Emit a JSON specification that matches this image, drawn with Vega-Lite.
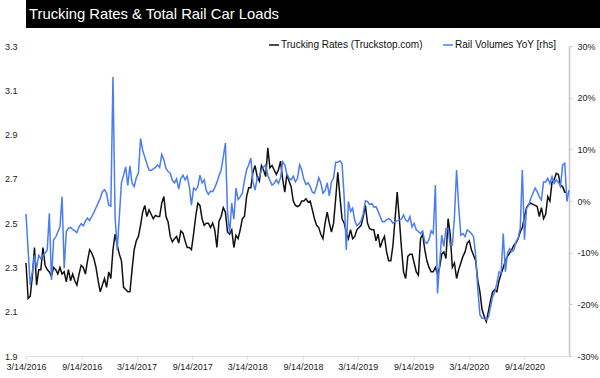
{
  "$schema": "https://vega.github.io/schema/vega-lite/v6.json",
  "padding": 0,
  "spacing": 11,
  "bounds": "full",
  "background": "white",
  "resolve": {"scale": {"color": "independent"}, "legend": {"color": "independent"}},
  "config": {
    "view": {"stroke": null},
    "font": "Liberation Sans, Arial",
    "axis": {"labelFont": "Liberation Sans, Arial", "labelColor": "#222", "labelFontSize": 9, "grid": false},
    "legend": {"labelFont": "Liberation Sans, Arial"}
  },
  "vconcat": [
    {
      "width": 600,
      "height": 28,
      "view": {"fill": "black", "stroke": null},
      "data": {"values": [{"title": "Trucking Rates & Total Rail Car Loads"}]},
      "mark": {"type": "text", "align": "left", "baseline": "middle", "color": "white", "fontSize": 14.8, "font": "Liberation Sans, Arial", "dx": 3, "dy": 1},
      "encoding": {
        "text": {"field": "title"},
        "x": {"datum": 0, "type": "quantitative", "scale": {"domain": [0, 1]}, "axis": null}
      }
    },
    {
      "width": 543,
      "height": 310,
      "data": {"values": [
{"d":"2016-03-14","t":2.32,"r":-2.5},{"d":"2016-03-21","t":2.16,"r":-9.5},{"d":"2016-03-28","t":2.17,"r":-16.3},{"d":"2016-04-04","t":2.26,"r":-13.7},{"d":"2016-04-11","t":2.39,"r":-10.5},{"d":"2016-04-18","t":2.22,"r":-13.0},{"d":"2016-04-25","t":2.29,"r":-10.5},{"d":"2016-05-02","t":2.29,"r":-11.1},{"d":"2016-05-09","t":2.39,"r":-10.5},{"d":"2016-05-16","t":2.31,"r":-10.1},{"d":"2016-05-23","t":2.29,"r":-9.5},{"d":"2016-05-30","t":2.28,"r":-2.4},{"d":"2016-06-06","t":2.26,"r":-15.3},{"d":"2016-06-13","t":2.30,"r":-7.5},{"d":"2016-06-20","t":2.29,"r":-7.0},{"d":"2016-06-27","t":2.27,"r":-6.0},{"d":"2016-07-04","t":2.30,"r":-5.0},{"d":"2016-07-11","t":2.27,"r":0.8},{"d":"2016-07-18","t":2.28,"r":-13.0},{"d":"2016-07-25","t":2.235,"r":-5.9},{"d":"2016-08-01","t":2.29,"r":-5.3},{"d":"2016-08-08","t":2.24,"r":-5.1},{"d":"2016-08-15","t":2.27,"r":-5.5},{"d":"2016-08-22","t":2.24,"r":-5.8},{"d":"2016-08-29","t":2.22,"r":-6.1},{"d":"2016-09-05","t":2.27,"r":-5.0},{"d":"2016-09-12","t":2.31,"r":-4.4},{"d":"2016-09-19","t":2.30,"r":-4.8},{"d":"2016-09-26","t":2.27,"r":-3.9},{"d":"2016-10-03","t":2.33,"r":-3.3},{"d":"2016-10-10","t":2.38,"r":-3.8},{"d":"2016-10-17","t":2.365,"r":-3.0},{"d":"2016-10-24","t":2.34,"r":-2.2},{"d":"2016-10-31","t":2.30,"r":-1.3},{"d":"2016-11-07","t":2.24,"r":-0.4},{"d":"2016-11-14","t":2.19,"r":0.5},{"d":"2016-11-21","t":2.22,"r":1.8},{"d":"2016-11-28","t":2.25,"r":2.2},{"d":"2016-12-05","t":2.21,"r":1.5},{"d":"2016-12-12","t":2.28,"r":-0.8},{"d":"2016-12-19","t":2.25,"r":-1.0},{"d":"2016-12-26","t":2.38,"r":24.0},
{"d":"2017-01-02","t":2.45,"r":-3.0},{"d":"2017-01-09","t":2.40,"r":-9.5},{"d":"2017-01-16","t":2.36,"r":-3.0},{"d":"2017-01-23","t":2.33,"r":3.5},{"d":"2017-01-30","t":2.21,"r":5.0},{"d":"2017-02-06","t":2.20,"r":6.6},{"d":"2017-02-13","t":2.19,"r":3.0},{"d":"2017-02-20","t":2.19,"r":6.8},{"d":"2017-02-27","t":2.29,"r":3.5},{"d":"2017-03-06","t":2.38,"r":2.8},{"d":"2017-03-13","t":2.42,"r":4.5},{"d":"2017-03-20","t":2.44,"r":5.4},{"d":"2017-03-27","t":2.49,"r":12.1},{"d":"2017-04-03","t":2.55,"r":9.8},{"d":"2017-04-10","t":2.58,"r":8.5},{"d":"2017-04-17","t":2.53,"r":7.2},{"d":"2017-04-24","t":2.56,"r":6.0},{"d":"2017-05-01","t":2.54,"r":5.9},{"d":"2017-05-08","t":2.52,"r":6.2},{"d":"2017-05-15","t":2.535,"r":6.5},{"d":"2017-05-22","t":2.53,"r":7.0},{"d":"2017-05-29","t":2.53,"r":6.5},{"d":"2017-06-05","t":2.59,"r":9.0},{"d":"2017-06-12","t":2.62,"r":8.0},{"d":"2017-06-19","t":2.53,"r":6.3},{"d":"2017-06-26","t":2.505,"r":5.7},{"d":"2017-07-03","t":2.44,"r":5.4},{"d":"2017-07-10","t":2.415,"r":4.0},{"d":"2017-07-17","t":2.43,"r":3.5},{"d":"2017-07-24","t":2.44,"r":4.3},{"d":"2017-07-31","t":2.41,"r":2.3},{"d":"2017-08-07","t":2.465,"r":4.4},{"d":"2017-08-14","t":2.455,"r":5.0},{"d":"2017-08-21","t":2.42,"r":4.1},{"d":"2017-08-28","t":2.39,"r":4.8},{"d":"2017-09-04","t":2.39,"r":2.8},{"d":"2017-09-11","t":2.38,"r":-0.8},{"d":"2017-09-18","t":2.45,"r":2.5},{"d":"2017-09-25","t":2.53,"r":2.1},{"d":"2017-10-02","t":2.59,"r":2.8},{"d":"2017-10-09","t":2.58,"r":5.0},{"d":"2017-10-16","t":2.52,"r":3.5},{"d":"2017-10-23","t":2.49,"r":4.1},{"d":"2017-10-30","t":2.50,"r":2.0},{"d":"2017-11-06","t":2.50,"r":1.3},{"d":"2017-11-13","t":2.48,"r":1.9},{"d":"2017-11-20","t":2.50,"r":1.8},{"d":"2017-11-27","t":2.47,"r":2.6},{"d":"2017-12-04","t":2.39,"r":3.6},{"d":"2017-12-11","t":2.51,"r":4.9},{"d":"2017-12-18","t":2.53,"r":6.0},{"d":"2017-12-25","t":2.57,"r":8.5},
{"d":"2018-01-01","t":2.55,"r":11.2},{"d":"2018-01-08","t":2.46,"r":-2.0},{"d":"2018-01-15","t":2.45,"r":-6.3},{"d":"2018-01-22","t":2.47,"r":-0.4},{"d":"2018-01-29","t":2.39,"r":-3.5},{"d":"2018-02-05","t":2.445,"r":2.5},{"d":"2018-02-12","t":2.43,"r":0.3},{"d":"2018-02-19","t":2.47,"r":0.8},{"d":"2018-02-26","t":2.52,"r":1.5},{"d":"2018-03-05","t":2.53,"r":4.0},{"d":"2018-03-12","t":2.62,"r":6.0},{"d":"2018-03-19","t":2.66,"r":7.0},{"d":"2018-03-26","t":2.66,"r":8.3},{"d":"2018-04-02","t":2.73,"r":3.7},{"d":"2018-04-09","t":2.76,"r":2.1},{"d":"2018-04-16","t":2.71,"r":4.5},{"d":"2018-04-23","t":2.69,"r":4.7},{"d":"2018-04-30","t":2.76,"r":6.0},{"d":"2018-05-07","t":2.74,"r":6.6},{"d":"2018-05-14","t":2.71,"r":7.0},{"d":"2018-05-21","t":2.84,"r":5.0},{"d":"2018-05-28","t":2.75,"r":4.0},{"d":"2018-06-04","t":2.76,"r":3.1},{"d":"2018-06-11","t":2.74,"r":3.4},{"d":"2018-06-18","t":2.72,"r":4.1},{"d":"2018-06-25","t":2.74,"r":3.4},{"d":"2018-07-02","t":2.78,"r":4.5},{"d":"2018-07-09","t":2.70,"r":7.6},{"d":"2018-07-16","t":2.64,"r":7.0},{"d":"2018-07-23","t":2.72,"r":5.2},{"d":"2018-07-30","t":2.69,"r":4.4},{"d":"2018-08-06","t":2.665,"r":4.1},{"d":"2018-08-13","t":2.60,"r":4.8},{"d":"2018-08-20","t":2.58,"r":3.7},{"d":"2018-08-27","t":2.575,"r":4.4},{"d":"2018-09-03","t":2.58,"r":7.0},{"d":"2018-09-10","t":2.60,"r":6.0},{"d":"2018-09-17","t":2.60,"r":4.2},{"d":"2018-09-24","t":2.61,"r":3.2},{"d":"2018-10-01","t":2.595,"r":3.5},{"d":"2018-10-08","t":2.60,"r":2.8},{"d":"2018-10-15","t":2.56,"r":1.7},{"d":"2018-10-22","t":2.52,"r":1.5},{"d":"2018-10-29","t":2.49,"r":2.8},{"d":"2018-11-05","t":2.48,"r":4.5},{"d":"2018-11-12","t":2.45,"r":3.5},{"d":"2018-11-19","t":2.43,"r":1.5},{"d":"2018-11-26","t":2.50,"r":2.0},{"d":"2018-12-03","t":2.55,"r":3.5},{"d":"2018-12-10","t":2.50,"r":1.0},{"d":"2018-12-17","t":2.46,"r":3.7},{"d":"2018-12-24","t":2.50,"r":4.5},{"d":"2018-12-31","t":2.61,"r":7.5},
{"d":"2019-01-07","t":2.73,"r":7.5},{"d":"2019-01-14","t":2.62,"r":7.8},{"d":"2019-01-21","t":2.52,"r":7.2},{"d":"2019-01-28","t":2.50,"r":0.8},{"d":"2019-02-04","t":2.46,"r":-9.5},{"d":"2019-02-11","t":2.43,"r":-0.1},{"d":"2019-02-18","t":2.47,"r":-2.0},{"d":"2019-02-25","t":2.43,"r":-1.4},{"d":"2019-03-04","t":2.44,"r":-3.8},{"d":"2019-03-11","t":2.47,"r":-4.8},{"d":"2019-03-18","t":2.48,"r":-4.4},{"d":"2019-03-25","t":2.49,"r":-3.8},{"d":"2019-04-01","t":2.53,"r":-2.5},{"d":"2019-04-08","t":2.58,"r":0.0},{"d":"2019-04-15","t":2.50,"r":-0.1},{"d":"2019-04-22","t":2.475,"r":-0.7},{"d":"2019-04-29","t":2.47,"r":-0.5},{"d":"2019-05-06","t":2.47,"r":-1.2},{"d":"2019-05-13","t":2.42,"r":-1.1},{"d":"2019-05-20","t":2.45,"r":-2.0},{"d":"2019-05-27","t":2.39,"r":-3.0},{"d":"2019-06-03","t":2.42,"r":-4.0},{"d":"2019-06-10","t":2.44,"r":-4.0},{"d":"2019-06-17","t":2.37,"r":-3.6},{"d":"2019-06-24","t":2.33,"r":-3.4},{"d":"2019-07-01","t":2.33,"r":-3.7},{"d":"2019-07-08","t":2.40,"r":-4.3},{"d":"2019-07-15","t":2.52,"r":-4.0},{"d":"2019-07-22","t":2.64,"r":-3.8},{"d":"2019-07-29","t":2.52,"r":-3.7},{"d":"2019-08-05","t":2.39,"r":-3.5},{"d":"2019-08-12","t":2.28,"r":-2.7},{"d":"2019-08-19","t":2.25,"r":-3.7},{"d":"2019-08-26","t":2.35,"r":-4.0},{"d":"2019-09-02","t":2.36,"r":-3.0},{"d":"2019-09-09","t":2.36,"r":-5.0},{"d":"2019-09-16","t":2.32,"r":-4.3},{"d":"2019-09-23","t":2.28,"r":-5.6},{"d":"2019-09-30","t":2.265,"r":-5.9},{"d":"2019-10-07","t":2.43,"r":-6.3},{"d":"2019-10-14","t":2.45,"r":-5.8},{"d":"2019-10-21","t":2.38,"r":-7.9},{"d":"2019-10-28","t":2.33,"r":-8.2},{"d":"2019-11-04","t":2.30,"r":-7.5},{"d":"2019-11-11","t":2.28,"r":-5.8},{"d":"2019-11-18","t":2.28,"r":-6.3},{"d":"2019-11-25","t":2.30,"r":3.1},{"d":"2019-12-02","t":2.27,"r":-17.9},{"d":"2019-12-09","t":2.30,"r":-12.1},{"d":"2019-12-16","t":2.36,"r":-6.6},{"d":"2019-12-23","t":2.37,"r":-8.8},{"d":"2019-12-30","t":2.34,"r":-5.3},
{"d":"2020-01-06","t":2.52,"r":-5.3},{"d":"2020-01-13","t":2.45,"r":-8.5},{"d":"2020-01-20","t":2.30,"r":-8.5},{"d":"2020-01-27","t":2.32,"r":-3.0},{"d":"2020-02-03","t":2.25,"r":6.0},{"d":"2020-02-10","t":2.29,"r":-1.1},{"d":"2020-02-17","t":2.32,"r":-6.6},{"d":"2020-02-24","t":2.35,"r":-6.3},{"d":"2020-03-02","t":2.37,"r":-6.9},{"d":"2020-03-09","t":2.41,"r":-5.6},{"d":"2020-03-16","t":2.42,"r":-5.9},{"d":"2020-03-23","t":2.38,"r":-6.3},{"d":"2020-03-30","t":2.355,"r":-6.9},{"d":"2020-04-06","t":2.33,"r":-10.5},{"d":"2020-04-13","t":2.24,"r":-17.0},{"d":"2020-04-20","t":2.19,"r":-22.0},{"d":"2020-04-27","t":2.11,"r":-22.7},{"d":"2020-05-04","t":2.08,"r":-22.7},{"d":"2020-05-11","t":2.055,"r":-23.0},{"d":"2020-05-18","t":2.10,"r":-22.5},{"d":"2020-05-25","t":2.15,"r":-20.5},{"d":"2020-06-01","t":2.19,"r":-18.5},{"d":"2020-06-08","t":2.20,"r":-17.6},{"d":"2020-06-15","t":2.19,"r":-15.9},{"d":"2020-06-22","t":2.24,"r":-13.7},{"d":"2020-06-29","t":2.27,"r":-14.0},{"d":"2020-07-06","t":2.30,"r":-6.3},{"d":"2020-07-13","t":2.33,"r":-13.7},{"d":"2020-07-20","t":2.35,"r":-10.1},{"d":"2020-07-27","t":2.365,"r":-9.2},{"d":"2020-08-03","t":2.38,"r":-9.8},{"d":"2020-08-10","t":2.40,"r":-9.5},{"d":"2020-08-17","t":2.41,"r":-7.9},{"d":"2020-08-24","t":2.43,"r":-7.2},{"d":"2020-08-31","t":2.46,"r":-5.3},{"d":"2020-09-07","t":2.48,"r":6.0},{"d":"2020-09-14","t":2.53,"r":-7.5},{"d":"2020-09-21","t":2.57,"r":-1.4},{"d":"2020-09-28","t":2.585,"r":-0.8},{"d":"2020-10-05","t":2.59,"r":0.5},{"d":"2020-10-12","t":2.585,"r":1.5},{"d":"2020-10-19","t":2.58,"r":2.5},{"d":"2020-10-26","t":2.575,"r":1.8},{"d":"2020-11-02","t":2.53,"r":0.8},{"d":"2020-11-09","t":2.57,"r":0.2},{"d":"2020-11-16","t":2.52,"r":3.7},{"d":"2020-11-23","t":2.54,"r":3.7},{"d":"2020-11-30","t":2.62,"r":4.4},{"d":"2020-12-07","t":2.60,"r":3.4},{"d":"2020-12-14","t":2.685,"r":4.7},{"d":"2020-12-21","t":2.695,"r":3.4},{"d":"2020-12-28","t":2.725,"r":4.1},
{"d":"2021-01-04","t":2.72,"r":3.6},{"d":"2021-01-11","t":2.67,"r":2.8},{"d":"2021-01-18","t":2.665,"r":7.0},{"d":"2021-01-25","t":2.64,"r":7.3},{"d":"2021-02-01","t":2.64,"r":-0.1},{"d":"2021-02-08","t":null,"r":2.1}
      ]},
      "encoding": {
        "x": {
          "field": "d", "type": "temporal", "title": null,
          "scale": {"type": "utc", "domain": [{"year": 2016, "month": 3, "date": 14, "utc": true}, {"year": 2021, "month": 2, "date": 8, "utc": true}]},
          "axis": {
            "values": [
              {"year": 2016, "month": 3, "date": 14, "utc": true}, {"year": 2016, "month": 9, "date": 14, "utc": true},
              {"year": 2017, "month": 3, "date": 14, "utc": true}, {"year": 2017, "month": 9, "date": 14, "utc": true},
              {"year": 2018, "month": 3, "date": 14, "utc": true}, {"year": 2018, "month": 9, "date": 14, "utc": true},
              {"year": 2019, "month": 3, "date": 14, "utc": true}, {"year": 2019, "month": 9, "date": 14, "utc": true},
              {"year": 2020, "month": 3, "date": 14, "utc": true}, {"year": 2020, "month": 9, "date": 14, "utc": true}
            ],
            "format": "%-m/%-d/%Y",
            "labelAngle": 0,
            "domainColor": "#dddddd",
            "ticks": true, "tickColor": "#dddddd", "tickSize": 3,
            "labelPadding": 3,
            "labelFlush": false,
            "labelOverlap": false
          }
        }
      },
      "layer": [
        {
          "mark": {"type": "line", "strokeWidth": 1.5, "interpolate": "linear"},
          "encoding": {
            "y": {
              "field": "t", "type": "quantitative", "title": null,
              "scale": {"domain": [1.9, 3.3], "zero": false, "nice": false},
              "axis": {"orient": "left", "values": [1.9, 2.1, 2.3, 2.5, 2.7, 2.9, 3.1, 3.3], "format": ".1f", "domain": false, "ticks": false, "labelPadding": 9, "minExtent": 26}
            },
            "color": {
              "datum": "Trucking Rates (Truckstop.com)", "type": "nominal",
              "scale": {"domain": ["Trucking Rates (Truckstop.com)", "Rail Volumes YoY [rhs]"], "range": ["#111111", "#4a7cf3"]},
              "legend": {
                "title": null, "orient": "none", "direction": "horizontal", "legendX": 242, "legendY": -7,
                "symbolType": "stroke", "symbolSize": 100, "symbolStrokeWidth": 1.5,
                "labelFontSize": 10, "labelColor": "#111", "labelOffset": 1, "columnPadding": 17
              }
            }
          }
        },
        {
          "mark": {"type": "line", "strokeWidth": 1.5, "interpolate": "linear"},
          "encoding": {
            "y": {
              "field": "r", "type": "quantitative", "title": null,
              "scale": {"domain": [-30, 30], "zero": false, "nice": false},
              "axis": {"orient": "right", "values": [-30, -20, -10, 0, 10, 20, 30], "labelExpr": "datum.value + '%'", "domain": true, "domainColor": "#c8c8c8", "domainWidth": 1.5, "ticks": true, "tickColor": "#c8c8c8", "tickSize": 3, "labelPadding": 5}
            },
            "color": {"datum": "Rail Volumes YoY [rhs]", "type": "nominal"}
          }
        }
      ],
      "resolve": {"scale": {"y": "independent"}}
    }
  ]
}
